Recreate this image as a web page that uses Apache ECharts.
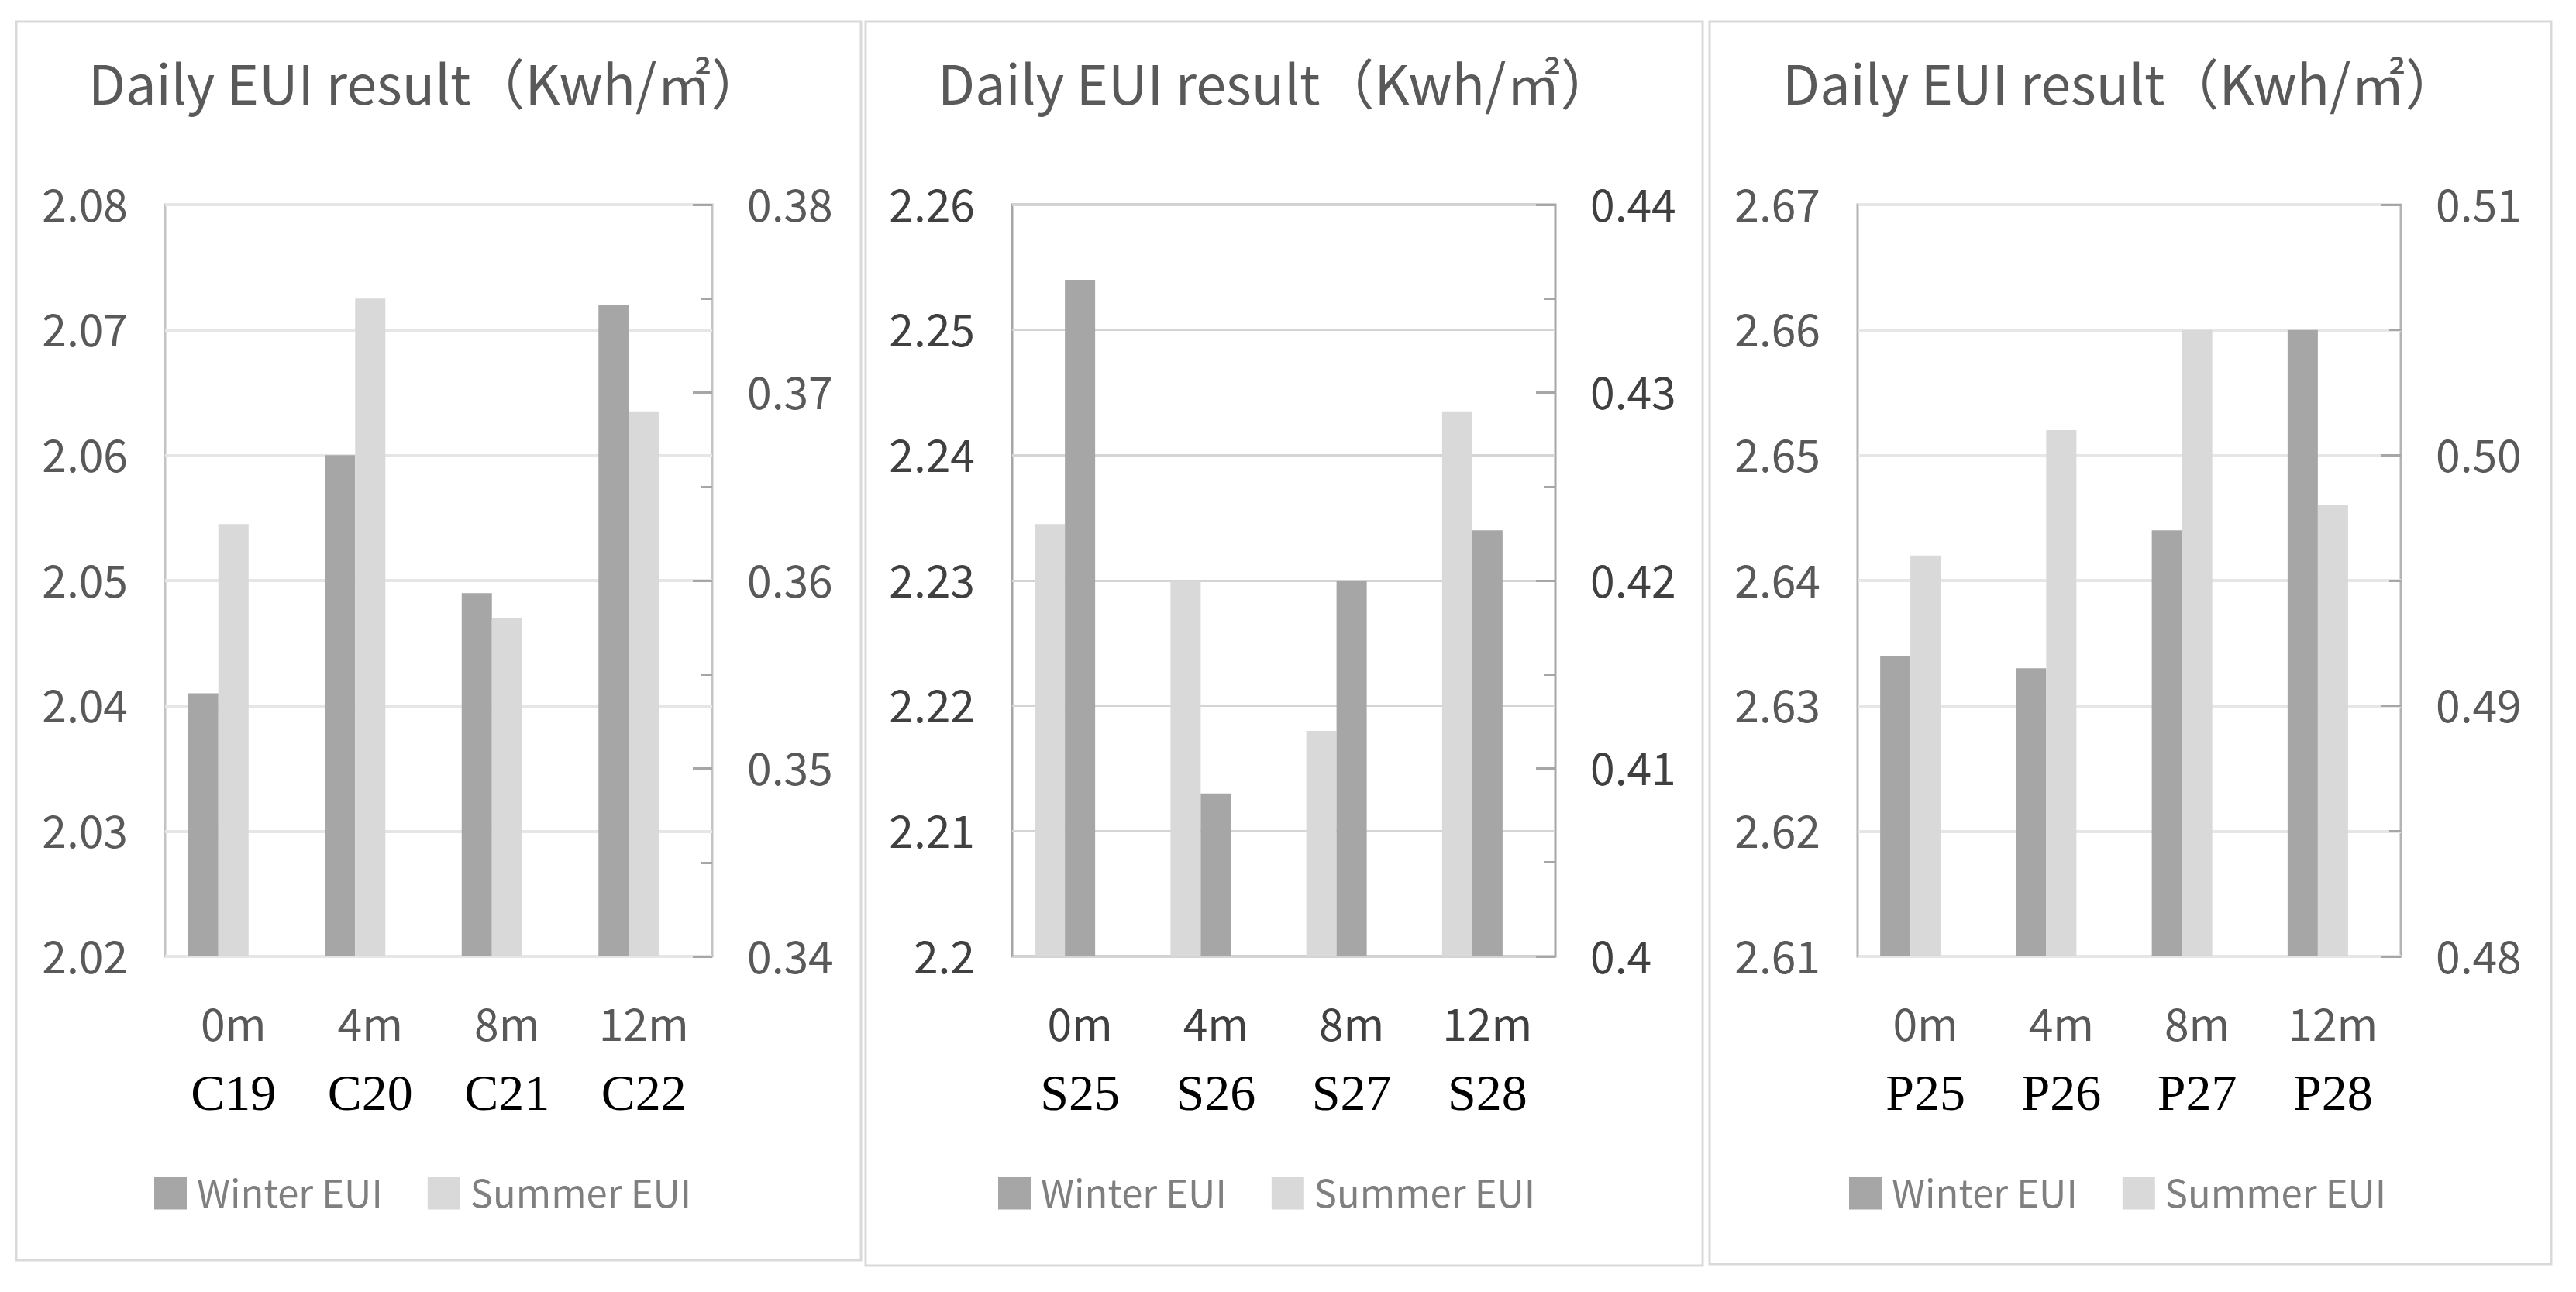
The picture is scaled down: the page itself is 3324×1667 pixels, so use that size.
<!DOCTYPE html>
<html>
<head>
<meta charset="utf-8">
<script src="https://cdn.jsdelivr.net/npm/echarts@6/dist/echarts.min.js"></script>
<style>
html,body{margin:0;padding:0;background:#fff;}
#c{width:3324px;height:1667px;}
</style>
</head>
<body>
<div id="c"></div>
<script>
// ---------- data ----------
const positions = ['0m', '4m', '8m', '12m'];
const ids1 = ['C19', 'C20', 'C21', 'C22'];
const ids2 = ['S25', 'S26', 'S27', 'S28'];
const ids3 = ['P25', 'P26', 'P27', 'P28'];

const winter1 = [2.041, 2.060, 2.049, 2.072];
const summer1 = [0.363, 0.375, 0.358, 0.369];
const winter2 = [2.254, 2.213, 2.230, 2.234];
const summer2 = [0.423, 0.420, 0.412, 0.429];
const winter3 = [2.634, 2.633, 2.644, 2.660];
const summer3 = [0.496, 0.501, 0.505, 0.498];
const spacer = [null, null, null, null];

const leftRange1 = [2.02, 2.08];
const rightRange1 = [0.34, 0.38];
const leftRange2 = [2.20, 2.26];
const rightRange2 = [0.40, 0.44];
const leftRange3 = [2.61, 2.67];
const rightRange3 = [0.48, 0.51];

const titleText = 'Daily EUI result（Kwh/㎡）';
const seriesNames = ['Winter EUI', 'Summer EUI'];

// ---------- styling ----------
const WINTER = '#a6a6a6';
const SUMMER = '#d9d9d9';
const FONT = '"Noto Sans CJK SC","Noto Sans",sans-serif';

const panels = [
  { ids: ids1, winter: winter1, summer: summer1, left: leftRange1, right: rightRange1,
    order: 'ws', gx: 213, gw: 706, fixed: true, txt: '#595959', border: '#c4c4c4', split: '#e6e6e6', splitW: 4,
    box: [21, 28, 1090, 1598], titleX: 114, legendX: 199 },
  { ids: ids2, winter: winter2, summer: summer2, left: leftRange2, right: rightRange2,
    order: 'sw', gx: 1306, gw: 701, fixed: false, txt: '#404040', border: '#a6a6a6', split: '#d4d4d4', splitW: 3,
    box: [1117, 28, 1080, 1605], titleX: 1210, legendX: 1288 },
  { ids: ids3, winter: winter3, summer: summer3, left: leftRange3, right: rightRange3,
    order: 'ws', gx: 2397, gw: 701, fixed: true, txt: '#595959', border: '#b4b4b4', split: '#e6e6e6', splitW: 4,
    box: [2206, 28, 1086, 1603], titleX: 2300, legendX: 2386 }
];

const option = {
  backgroundColor: '#fff',
  animation: false,
  title: [], legend: [], grid: [], xAxis: [], yAxis: [], series: [], graphic: []
};

panels.forEach((p, i) => {
  option.graphic.push({
    type: 'rect', silent: true, z: -10,
    shape: { x: p.box[0], y: p.box[1], width: p.box[2], height: p.box[3] },
    style: { fill: '#fff', stroke: '#d9d9d9', lineWidth: 3 }
  });
  option.title.push({
    text: titleText, left: p.titleX - 5, top: 68,
    textStyle: { fontFamily: FONT, fontSize: 70, fontWeight: 'normal', color: '#595959' }
  });
  option.legend.push({
    data: seriesNames, left: p.legendX - 5, top: 1510, itemWidth: 42, itemHeight: 42, itemGap: 58,
    icon: 'rect', selectedMode: false,
    textStyle: { fontFamily: FONT, fontSize: 49, color: '#7f7f7f', padding: [0, 0, 0, 8] }
  });
  option.grid.push({
    left: p.gx, top: 264, width: p.gw, height: 970,
    show: true, borderColor: p.border, borderWidth: 3, backgroundColor: 'transparent'
  });
  option.xAxis.push({
    type: 'category', gridIndex: i, data: positions,
    axisLine: { show: false }, axisTick: { show: false },
    axisLabel: {
      margin: 40, interval: 0,
      formatter: (v, idx) => '{a|' + v + '}\n{b|' + p.ids[idx] + '}',
      rich: {
        a: { fontFamily: FONT, fontSize: 57, color: p.txt, lineHeight: 94 },
        b: { fontFamily: '"Liberation Serif","Times New Roman",serif', fontSize: 66, color: '#000', lineHeight: 94 }
      }
    }
  });
  const fmt = v => p.fixed ? v.toFixed(2) : String(+v.toFixed(2));
  option.yAxis.push({
    type: 'value', gridIndex: i, position: 'left',
    min: p.left[0], max: p.left[1], interval: 0.01,
    axisLine: { show: false }, axisTick: { show: false },
    splitLine: { show: true, lineStyle: { color: p.split, width: p.splitW } },
    axisLabel: { margin: 48, fontFamily: FONT, fontSize: 57, color: p.txt, formatter: v => String(+v.toFixed(2)) }
  });
  option.yAxis.push({
    type: 'value', gridIndex: i, position: 'right',
    min: p.right[0], max: p.right[1], interval: 0.01,
    axisLine: { show: false },
    axisTick: { show: true, inside: true, length: 25, lineStyle: { color: '#a6a6a6', width: 3 } },
    minorTick: { show: true, splitNumber: 2, length: 15, lineStyle: { color: '#a6a6a6', width: 3 } },
    splitLine: { show: false },
    axisLabel: { margin: 45, fontFamily: FONT, fontSize: 57, color: p.txt, formatter: fmt }
  });
  const winterS = { name: 'Winter EUI', type: 'bar', xAxisIndex: i, yAxisIndex: 2 * i,
    data: p.winter, barWidth: 39, barGap: '0%', itemStyle: { color: WINTER } };
  const summerS = { name: 'Summer EUI', type: 'bar', xAxisIndex: i, yAxisIndex: 2 * i + 1,
    data: p.summer, barWidth: 39, barGap: '0%', itemStyle: { color: SUMMER } };
  const spacerS = { name: 'spacer', type: 'bar', xAxisIndex: i, yAxisIndex: 2 * i,
    data: spacer, barWidth: 39, barGap: '0%', itemStyle: { color: 'transparent' }, silent: true };
  if (p.order === 'ws') option.series.push(winterS, summerS, spacerS);
  else option.series.push(summerS, winterS, spacerS);
});

const chart = echarts.init(document.getElementById('c'));
chart.setOption(option);
</script>
</body>
</html>
